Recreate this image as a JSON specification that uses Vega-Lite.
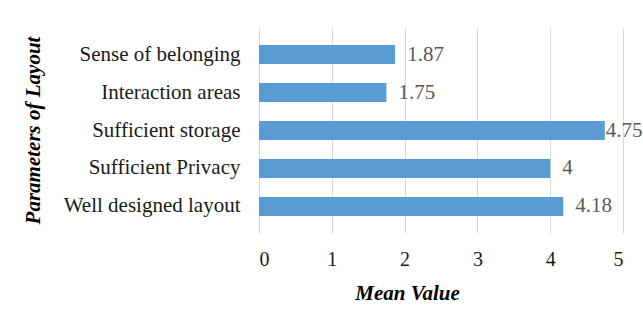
{
  "$schema": "https://vega.github.io/schema/vega-lite/v6.json",
  "autosize": {"type": "none"},
  "padding": {"left": 259, "top": 28, "right": 20, "bottom": 87},
  "width": 364,
  "height": 205,
  "background": "white",
  "config": {
    "view": {"stroke": null},
    "font": "Liberation Serif"
  },
  "data": {
    "values": [
      {"param": "Sense of belonging", "mean": 1.87},
      {"param": "Interaction areas", "mean": 1.75},
      {"param": "Sufficient storage", "mean": 4.75},
      {"param": "Sufficient Privacy", "mean": 4},
      {"param": "Well designed layout", "mean": 4.18}
    ]
  },
  "encoding": {
    "y": {
      "field": "param",
      "type": "nominal",
      "sort": null,
      "scale": {"paddingInner": 0.5, "paddingOuter": 0.45},
      "axis": {
        "title": "Parameters of Layout",
        "titleFont": "Liberation Serif",
        "titleFontSize": 21,
        "titleFontWeight": "bold",
        "titleFontStyle": "italic",
        "titleColor": "#000000",
        "titleX": -226,
        "titleY": 102,
        "titleAngle": 270,
        "titleBaseline": "middle",
        "titleAlign": "center",
        "labelFont": "Liberation Serif",
        "labelFontSize": 21,
        "labelColor": "#1a1a1a",
        "labelPadding": 19,
        "ticks": false,
        "domain": false,
        "grid": false
      }
    },
    "x": {
      "field": "mean",
      "type": "quantitative",
      "scale": {"domain": [0, 5], "nice": false},
      "axis": {
        "title": "Mean Value",
        "titleFont": "Liberation Serif",
        "titleFontSize": 21,
        "titleFontWeight": "bold",
        "titleFontStyle": "italic",
        "titleColor": "#000000",
        "titleX": 148,
        "titleY": 60,
        "titleBaseline": "middle",
        "titleAlign": "center",
        "values": [0, 1, 2, 3, 4, 5],
        "labelFont": "Liberation Serif",
        "labelFontSize": 20,
        "labelColor": "#1a1a1a",
        "labelPadding": 16,
        "ticks": false,
        "domain": false,
        "grid": true,
        "gridColor": "#d9d9d9",
        "gridWidth": 1
      }
    }
  },
  "layer": [
    {"mark": {"type": "bar", "color": "#5b9bd5"}},
    {
      "transform": [{"filter": "datum.mean < 4.5"}],
      "mark": {"type": "text", "align": "left", "baseline": "middle", "dx": 12, "fontSize": 21, "color": "#595959", "font": "Liberation Serif"},
      "encoding": {"text": {"field": "mean", "type": "quantitative"}}
    },
    {
      "transform": [{"filter": "datum.mean >= 4.5"}],
      "mark": {"type": "text", "align": "left", "baseline": "middle", "dx": 1, "fontSize": 21, "color": "#595959", "font": "Liberation Serif"},
      "encoding": {"text": {"field": "mean", "type": "quantitative"}}
    }
  ]
}
